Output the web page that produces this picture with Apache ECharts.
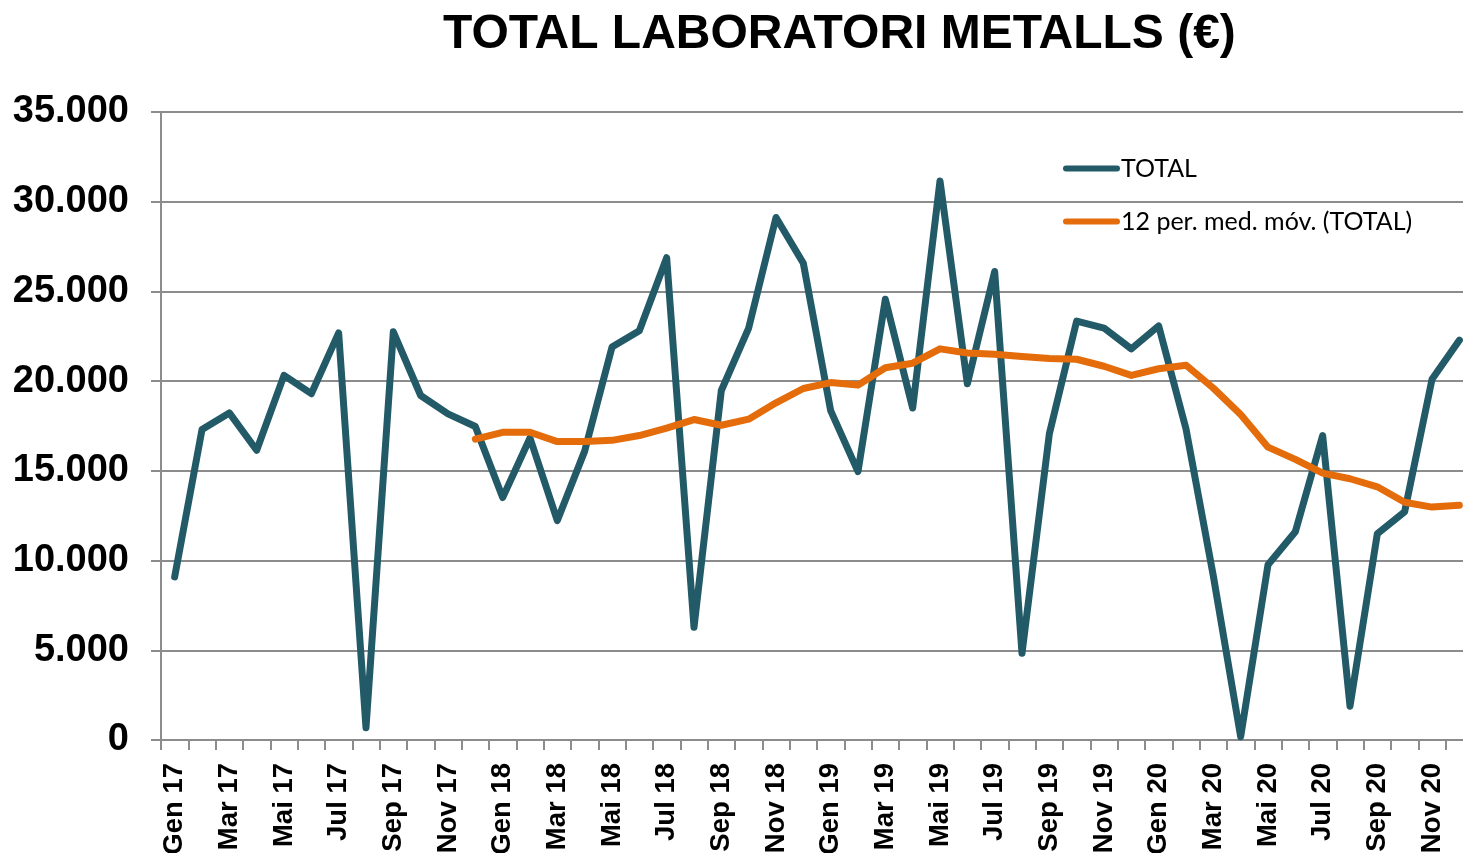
<!DOCTYPE html>
<html>
<head>
<meta charset="utf-8">
<script src="https://cdn.jsdelivr.net/npm/echarts@6/dist/echarts.min.js"></script>
<style>
html,body{margin:0;padding:0;background:#fff;overflow:hidden;}
#c{width:1463px;height:853px;}
</style>
</head>
<body>
<div id="c"></div>
<script>
const months = ['Gen','Feb','Mar','Abr','Mai','Jun','Jul','Ago','Sep','Oct','Nov','Des'];
const years = ['17','18','19','20'];
const categories = [];
years.forEach(y => months.forEach(m => categories.push(m + ' ' + y)));

const totalValues = [9090, 17300, 18230, 16150, 20320, 19300, 22690, 680, 22750, 19200, 18180, 17470,
  13510, 16830, 12230, 16100, 21900, 22810, 26880, 6280, 19480, 22960, 29120, 26570,
  18360, 14960, 24560, 18500, 31160, 19850, 26110, 4830, 17060, 23350, 22960, 21800,
  23080, 17340, 9140, 180, 9770, 11610, 16970, 1880, 11500, 12720, 20100, 22280];

const movingAvg = ['-','-','-','-','-','-','-','-','-','-','-', 16770,
  17150, 17150, 16630, 16630, 16700, 16970, 17380, 17860, 17540, 17880, 18790, 19590,
  19920, 19780, 20750, 21000, 21800, 21570, 21500, 21370, 21260, 21220, 20830, 20320,
  20690, 20890, 19610, 18140, 16320, 15640, 14870, 14560, 14110, 13250, 12980, 13080];

const seriesNames = ['TOTAL', '12 per. med. móv. (TOTAL)'];
const titleText = 'TOTAL LABORATORI METALLS (€)';

const chart = echarts.init(document.getElementById('c'), null, {renderer: 'canvas'});
const capsule = 'path://M3,0 L54,0 A3,3 0 0 1 54,6 L3,6 A3,3 0 0 1 3,0 Z';
chart.setOption({
  animation: false,
  backgroundColor: '#ffffff',
  title: {
    text: titleText,
    left: 443,
    top: 11,
    padding: 0,
    textStyle: {fontFamily: '"Liberation Sans", Arial, sans-serif', fontWeight: 'bold', fontSize: 48, color: '#000'}
  },
  legend: {
    orient: 'vertical',
    left: 1063,
    top: 156,
    padding: 0,
    itemWidth: 57,
    itemHeight: 7,
    itemGap: 28,
    icon: capsule,
    textStyle: {fontFamily: 'Lato, "Open Sans", sans-serif', fontSize: 25, color: '#000', padding: [0,0,0,-4]},
    data: seriesNames
  },
  grid: {left: 161, right: -10, top: 112, bottom: 113, containLabel: false, outerBoundsMode: 'none'},
  xAxis: {
    type: 'category',
    data: categories,
    boundaryGap: true,
    axisLine: {show: true, lineStyle: {color: '#8c8c8c', width: 2}},
    axisTick: {show: true, interval: 0, length: 10, lineStyle: {color: '#8c8c8c', width: 2}},
    axisLabel: {
      interval: 1, rotate: 90, margin: 23,
      fontFamily: '"Liberation Sans", Arial, sans-serif', fontWeight: 'bold', fontSize: 27.5, color: '#000'
    },
    splitLine: {show: false}
  },
  yAxis: {
    type: 'value',
    min: 0, max: 35000, interval: 5000,
    axisLine: {show: true, lineStyle: {color: '#8c8c8c', width: 2}},
    axisTick: {show: true, length: 10, lineStyle: {color: '#8c8c8c', width: 2}},
    axisLabel: {
      margin: 32,
      fontFamily: '"Liberation Sans", Arial, sans-serif', fontWeight: 'bold', fontSize: 38, color: '#000',
      formatter: v => v === 0 ? '0' : String(v).replace(/\B(?=(\d{3})+(?!\d))/g, '.')
    },
    splitLine: {show: true, lineStyle: {color: '#8c8c8c', width: 2}}
  },
  series: [
    {
      name: seriesNames[0], type: 'line', data: totalValues,
      symbol: 'none', color: '#235a68',
      lineStyle: {width: 7, color: '#235a68', cap: 'round', join: 'round'}
    },
    {
      name: seriesNames[1], type: 'line', data: movingAvg,
      symbol: 'none', color: '#e46c0a', connectNulls: false,
      lineStyle: {width: 7, color: '#e46c0a', cap: 'round', join: 'round'}
    }
  ]
});
</script>
</body>
</html>
